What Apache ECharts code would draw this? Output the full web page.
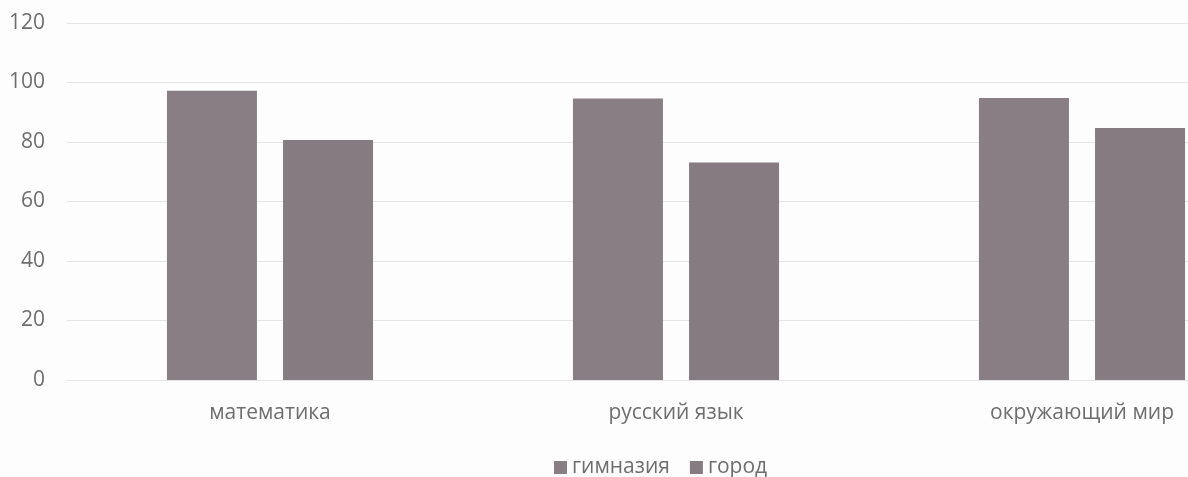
<!DOCTYPE html>
<html>
<head>
<meta charset="utf-8">
<script src="https://cdn.jsdelivr.net/npm/echarts@6/dist/echarts.min.js"></script>
<style>
  html, body { margin: 0; padding: 0; background: #fdfdfd; }
  #chart { width: 1188px; height: 477px; }
</style>
</head>
<body>
<div id="chart"></div>
<script>
// данные с картинки
const categories = ['математика', 'русский язык', 'окружающий мир'];
const gymnasium = [97.2, 94.6, 94.8];
const city = [80.7, 73.1, 84.7];
const yTicks = [0, 20, 40, 60, 80, 100, 120];

const chart = echarts.init(document.getElementById('chart'));

const textColor = '#6e6e6e';
const font = '"Open Sans", "DejaVu Sans", sans-serif';

const option = {
  backgroundColor: '#fdfdfd',
  animation: false,
  grid: {
    left: 67,
    top: 23,
    width: 1218,
    height: 357,
    containLabel: false,
    outerBoundsMode: 'none', // сетка уходит за правый край, как на скане
  },
  legend: {
    left: 549,
    top: 452,
    itemWidth: 13,
    itemHeight: 13,
    itemGap: 20,
    icon: 'rect',
    textStyle: { color: textColor, fontSize: 21, fontFamily: font },
    data: ['гимназия', 'город'],
  },
  xAxis: {
    type: 'category',
    data: categories,
    axisLine: { show: true, lineStyle: { color: '#e4e4e4' } },
    axisTick: { show: false },
    axisLabel: { color: textColor, fontSize: 21, fontFamily: font, margin: 23 },
  },
  yAxis: {
    type: 'value',
    min: yTicks[0],
    max: yTicks[yTicks.length - 1],
    interval: 20,
    axisLine: { show: false },
    axisTick: { show: false },
    splitLine: { lineStyle: { color: '#e4e4e4', width: 1 } },
    axisLabel: { color: textColor, fontSize: 21, fontFamily: font, margin: 22 },
  },
  series: [
    {
      name: 'гимназия',
      type: 'bar',
      data: gymnasium,
      barWidth: 90,
      barGap: '29%',
      itemStyle: { color: '#887e83' },
    },
    {
      name: 'город',
      type: 'bar',
      data: city,
      barWidth: 90,
      itemStyle: { color: '#857b80' },
    },
  ],
};

chart.setOption(option);
</script>
</body>
</html>
